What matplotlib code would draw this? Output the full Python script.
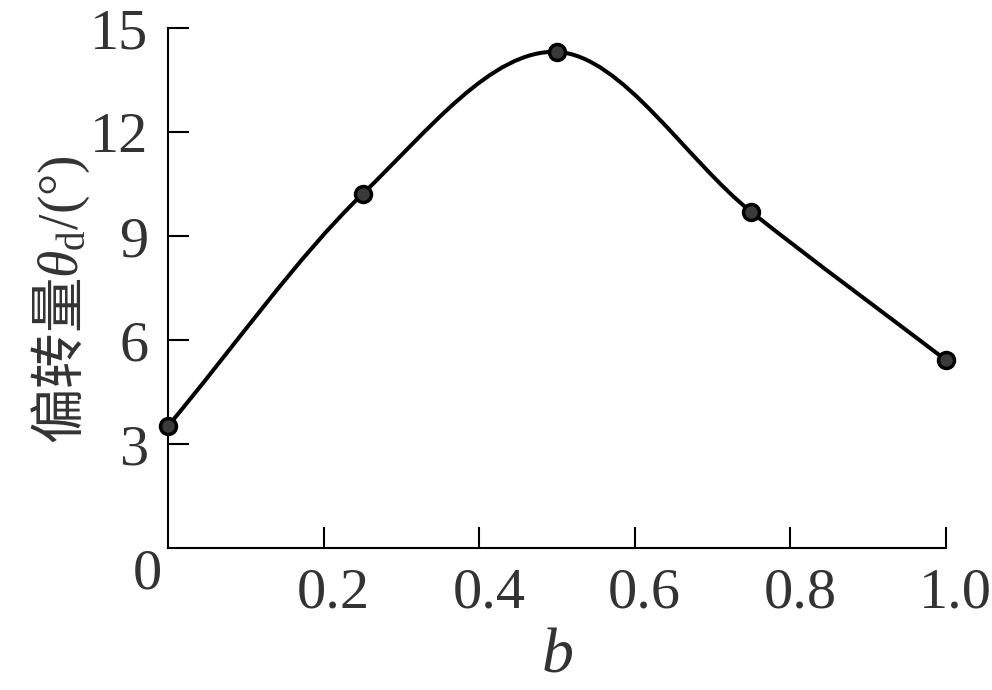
import numpy as np
import matplotlib
matplotlib.use('Agg')
import matplotlib.pyplot as plt
import matplotlib.transforms as mtransforms
from matplotlib.path import Path
from matplotlib.patches import PathPatch

plt.rcParams['font.family'] = ['Liberation Serif', 'Noto Sans CJK SC']
plt.rcParams['mathtext.fontset'] = 'custom'
plt.rcParams['mathtext.rm'] = 'Liberation Serif'
plt.rcParams['mathtext.it'] = 'Liberation Serif:italic'
plt.rcParams['mathtext.sf'] = 'Noto Sans CJK SC'

# data
b = [0.0, 0.25, 0.5, 0.75, 1.0]
theta_d = [3.52, 10.21, 14.31, 9.69, 5.42]
xticks = [0.2, 0.4, 0.6, 0.8, 1.0]
xticklabels = ['0.2', '0.4', '0.6', '0.8', '1.0']
yticks = [3, 6, 9, 12, 15]
yticklabels = ['3', '6', '9', '12', '15']

# smooth line through the points: cubic Bezier pieces with
# Catmull-Rom style tangents, drawn by matplotlib's Path
x = np.array(b)
y = np.array(theta_d)
n = len(x)
m = np.zeros(n)
m[0] = (y[1] - y[0]) / (x[1] - x[0])
m[-1] = (y[-1] - y[-2]) / (x[-1] - x[-2])
for i in range(1, n - 1):
    m[i] = (y[i + 1] - y[i - 1]) / (x[i + 1] - x[i - 1])

verts = [(x[0], y[0])]
codes = [Path.MOVETO]
for i in range(n - 1):
    h = x[i + 1] - x[i]
    verts.append((x[i] + h / 3, y[i] + m[i] * h / 3))
    verts.append((x[i + 1] - h / 3, y[i + 1] - m[i + 1] * h / 3))
    verts.append((x[i + 1], y[i + 1]))
    codes += [Path.CURVE4] * 3

fig = plt.figure(figsize=(9.92, 6.9), dpi=100)
ax = fig.add_axes([0.1694, 0.2058, 0.9536 - 0.1694, 0.9594 - 0.2058])

ax.add_patch(PathPatch(Path(verts, codes), fill=False, edgecolor='black',
                       lw=2.9, zorder=2, clip_on=False))
ax.plot(b, theta_d, 'o', ms=11.5, mfc='#3a3a3a', mec='black', mew=2.5,
        zorder=3, clip_on=False)

ax.set_xlim(0, 1.0)
ax.set_ylim(0, 15)
ax.spines['top'].set_visible(False)
ax.spines['right'].set_visible(False)
for s in ['left', 'bottom']:
    ax.spines[s].set_linewidth(1.5)

ax.set_xticks(xticks)
ax.set_xticklabels(xticklabels)
ax.set_yticks(yticks)
ax.set_yticklabels(yticklabels)
ax.tick_params(direction='in', length=15, width=1.5, labelsize=42,
               labelcolor='#333333')
ax.tick_params(axis='x', pad=14)
ax.tick_params(axis='y', pad=14)

shift = mtransforms.ScaledTranslation(7 / 72, 0, fig.dpi_scale_trans)
for lab in ax.get_xticklabels():
    lab.set_transform(lab.get_transform() + shift)

ax.annotate('0', xy=(0, 0), xytext=(-15, -19), textcoords='offset points',
            ha='center', va='center', fontsize=42, color='#333333',
            annotation_clip=False)

ax.set_xlabel('$b$', fontsize=46, color='#333333', labelpad=6)
ax.set_ylabel('$\\mathsf{偏转量}\\theta_{\\mathrm{d}}\\mathrm{/(°)}$',
              fontsize=40, color='#333333')
ax.yaxis.set_label_coords(-0.098, 0.477)

fig.savefig('out.png', dpi=100)
